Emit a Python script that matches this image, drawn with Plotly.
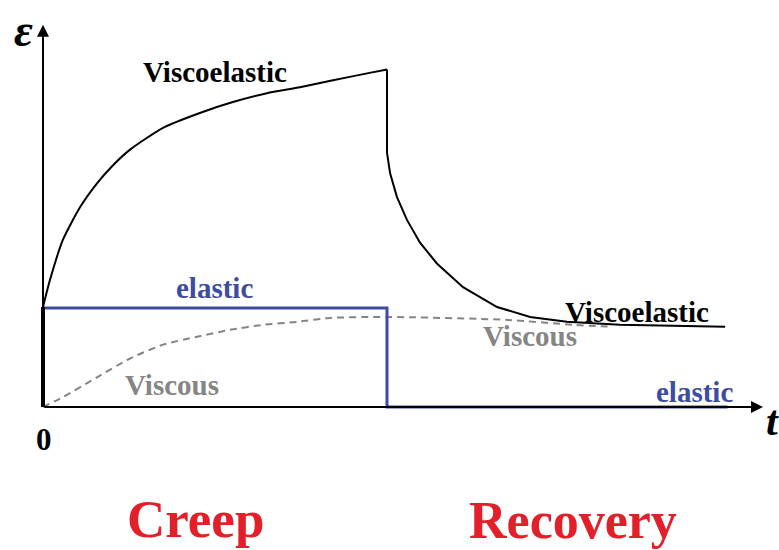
import plotly.graph_objects as go

# ---- data (time t, strain e) ----
creep_t = [0, 0.20, 0.58, 1.08, 1.57, 2.03, 2.53, 3.49, 4.56, 5.52, 6.51, 7.47, 8.43, 9.42, 10.0]
creep_visco = [1.01, 1.28, 1.69, 2.02, 2.26, 2.44, 2.60, 2.82, 2.97, 3.08, 3.17, 3.23, 3.30, 3.37, 3.41]
recov_t = [10.0, 10.0, 10.09, 10.17, 10.29, 10.58, 10.96, 11.45, 12.21, 13.20, 14.16, 15.23, 16.77, 19.83]
recov_visco = [3.41, 2.57, 2.36, 2.27, 2.12, 1.89, 1.66, 1.45, 1.21, 1.01, 0.91, 0.86, 0.83, 0.81]
jump_t = [0, 0]
jump_e = [0, 1.01]
viscous_t = [0, 0.58, 1.57, 2.53, 3.49, 4.48, 5.44, 6.40, 7.38, 8.34, 10.0, 13.49, 15.41, 16.57]
viscous_e = [0, 0.10, 0.30, 0.49, 0.63, 0.71, 0.78, 0.83, 0.86, 0.90, 0.91, 0.88, 0.83, 0.81]
elastic_t = [0, 10, 10, 19.9]
elastic_e = [1.0, 1.0, 0, 0]
axis_t_max = 20.93
axis_e_max = 3.86

BLUE = "#3d4ca0"
GRAY = "#858585"
RED = "#e3202a"
SERIF = "Liberation Serif, Times New Roman, serif"

fig = go.Figure()
fig.add_trace(go.Scatter(x=viscous_t, y=viscous_e, mode="lines",
                         line=dict(color=GRAY, width=2, dash="7px,5px", shape="spline", smoothing=0.6),
                         hoverinfo="skip"))
fig.add_trace(go.Scatter(x=elastic_t, y=elastic_e, mode="lines",
                         line=dict(color=BLUE, width=3), hoverinfo="skip"))
fig.add_trace(go.Scatter(x=creep_t, y=creep_visco, mode="lines",
                         line=dict(color="black", width=2, shape="spline", smoothing=0.6),
                         hoverinfo="skip"))
fig.add_trace(go.Scatter(x=recov_t, y=recov_visco, mode="lines",
                         line=dict(color="black", width=2), hoverinfo="skip"))
fig.add_trace(go.Scatter(x=jump_t, y=jump_e, mode="lines",
                         line=dict(color="black", width=4), hoverinfo="skip"))

anns = []
# axis arrows
anns.append(dict(x=axis_t_max, y=0, ax=0, ay=0, xref="x", yref="y", axref="x", ayref="y",
                 text="", showarrow=True, arrowhead=2, arrowsize=1.2, arrowwidth=2, arrowcolor="black"))
anns.append(dict(x=0, y=axis_e_max, ax=0, ay=0, xref="x", yref="y", axref="x", ayref="y",
                 text="", showarrow=True, arrowhead=2, arrowsize=1.2, arrowwidth=2, arrowcolor="black"))

def lab(text, px, py, size, color, italic=False):
    t = f"<b>{'<i>' + text + '</i>' if italic else text}</b>"
    anns.append(dict(x=px / 779, y=1 - py / 550, xref="paper", yref="paper", text=t,
                     showarrow=False, xanchor="center", yanchor="middle",
                     font=dict(family=SERIF, size=size, color=color)))

lab("ε", 23, 30, 46, "black", italic=True)
lab("t", 772, 421, 42, "black", italic=True)
lab("0", 44, 439, 31, "black")
lab("Viscoelastic", 215, 72, 29, "black")
lab("elastic", 215, 288, 29, BLUE)
lab("Viscous", 172, 385, 29, GRAY)
lab("Viscoelastic", 637, 312, 29, "black")
lab("Viscous", 530, 336, 29, GRAY)
lab("elastic", 694, 392, 29, BLUE)
lab("Creep", 195, 519, 53, RED)
lab("Recovery", 573, 520, 52, RED)

fig.update_layout(
    width=779, height=550, margin=dict(l=0, r=0, t=0, b=0),
    paper_bgcolor="white", plot_bgcolor="white", showlegend=False,
    xaxis=dict(range=[-43 / 34.4, 736 / 34.4], visible=False, fixedrange=True),
    yaxis=dict(range=[-143 / 99, 407 / 99], visible=False, fixedrange=True),
    annotations=anns,
)
fig.write_html("out.html", config={"displayModeBar": False},
               post_script="document.body.style.margin='0px';document.body.style.overflow='hidden';")
